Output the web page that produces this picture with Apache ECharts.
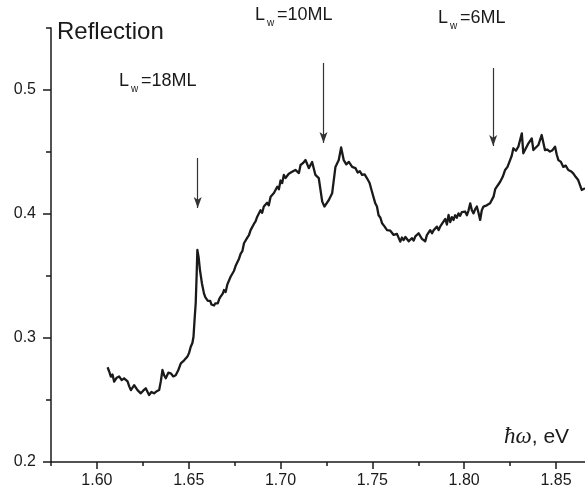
<!DOCTYPE html>
<html>
<head>
<meta charset="utf-8">
<script src="https://cdn.jsdelivr.net/npm/echarts@6/dist/echarts.min.js"></script>
<style>
html,body{margin:0;padding:0;background:#fff;}
#c{width:585px;height:497px;}
</style>
</head>
<body>
<div id="c"></div>
<script>
// photon energy (eV)
const energy = [
1.6058,1.6067,1.6076,1.6085,1.6094,1.6108,1.6121,1.6135,1.6148,1.6167,1.6176,1.6185,1.6203,1.6221,1.6239,1.6252,1.6266,1.6284,1.6297,1.6311,
1.6325,1.6339,1.6348,1.6357,1.6366,1.6375,1.6389,1.6402,1.6416,1.6429,1.6443,1.6457,1.6475,1.6493,1.6502,1.6511,1.6520,1.6526,1.6532,1.6538,
1.6543,1.6547,1.6554,1.6561,1.6572,
1.6583,1.6590,1.6597,1.6604,1.6610,1.6617,1.6624,1.6631,1.6638,1.6645,1.6651,1.6658,1.6665,1.6672,1.6679,1.6686,1.6692,1.6701,1.6710,1.6719,
1.6728,1.6737,1.6746,1.6755,1.6765,1.6774,1.6783,1.6792,1.6801,1.6810,1.6819,1.6828,1.6837,1.6846,1.6855,1.6864,1.6873,1.6882,1.6891,1.6900,
1.6909,1.6918,1.6927,1.6936,1.6946,1.6955,1.6964,1.6973,1.6982,1.6991,1.7000,1.7009,1.7018,1.7027,1.7036,1.7045,1.7054,1.7063,1.7072,1.7081,
1.7091,1.7100,1.7109,1.7122,1.7136,1.7141,1.7154,1.7172,1.7190,1.7208,1.7227,1.7239,1.7263,1.7281,1.7299,1.7317,1.7330,
1.7344,1.7358,1.7372,1.7390,1.7408,1.7420,1.7432,1.7444,1.7458,1.7471,1.7485,1.7498,1.7507,1.7516,1.7525,1.7534,1.7544,1.7553,1.7566,1.7580,
1.7598,1.7616,1.7634,1.7652,1.7661,1.7670,1.7680,1.7689,1.7698,1.7707,1.7716,1.7725,1.7734,1.7743,1.7752,1.7761,1.7770,1.7779,1.7788,1.7797,
1.7806,1.7815,1.7825,1.7834,1.7843,1.7852,1.7861,1.7870,1.7879,1.7888,1.7897,1.7906,1.7915,1.7924,1.7933,1.7942,1.7951,1.7960,1.7969,1.7978,
1.7987,1.7996,1.8005,1.8015,1.8024,1.8033,1.8042,1.8051,1.8060,1.8069,1.8078,1.8087,1.8096,1.8105,1.8114,1.8123,1.8132,1.8141,1.8150,1.8160,
1.8169,1.8178,1.8187,1.8196,1.8210,1.8223,1.8236,1.8250,1.8259,1.8268,1.8282,1.8295,1.8314,1.8322,1.8350,1.8368,1.8377,1.8404,1.8422,1.8440,
1.8453,1.8467,1.8481,1.8495,1.8504,1.8513,1.8527,1.8540,1.8553,1.8567,1.8581,1.8594,1.8607,1.8621,1.8630,1.8640,1.8649,1.8658
];
// reflection
const reflection = [
0.2764,0.2730,0.2688,0.2705,0.2648,0.2680,0.2690,0.2660,0.2675,0.2650,0.2610,0.2580,0.2620,0.2580,0.2554,0.2575,0.2594,0.2540,0.2565,0.2554,
0.2570,0.2580,0.2650,0.2742,0.2700,0.2675,0.2720,0.2715,0.2690,0.2700,0.2740,0.2796,0.2820,0.2850,0.2880,0.2930,0.2960,0.3010,0.3150,0.3280,
0.3500,0.3710,0.3650,0.3550,0.3440,
0.3360,0.3330,0.3335,0.3300,0.3290,0.3300,0.3270,0.3285,0.3262,0.3280,0.3290,0.3280,0.3310,0.3330,0.3320,0.3360,0.3387,0.3370,0.3430,0.3445,
0.3494,0.3480,0.3540,0.3580,0.3570,0.3640,0.3680,0.3700,0.3764,0.3760,0.3810,0.3830,0.3870,0.3880,0.3920,0.3940,0.3978,0.3990,0.4030,0.4010,
0.4060,0.4045,0.4090,0.4070,0.4140,0.4125,0.4170,0.4160,0.4220,0.4200,0.4270,0.4250,0.4315,0.4290,0.4300,0.4325,0.4310,0.4340,0.4325,0.4355,
0.4340,0.4330,0.4395,0.4410,0.4435,0.4450,0.4370,0.4420,0.4315,0.4290,0.4100,0.4060,0.4113,0.4167,0.4380,0.4435,0.4537,
0.4435,0.4400,0.4420,0.4380,0.4370,0.4335,0.4345,0.4315,0.4320,0.4288,0.4250,0.4180,0.4190,0.4086,0.4060,0.3990,0.3970,0.3925,0.3900,0.3870,
0.3865,0.3831,0.3840,0.3777,0.3810,0.3790,0.3815,0.3817,0.3780,0.3795,0.3805,0.3785,0.3820,0.3815,0.3845,0.3830,0.3800,0.3810,0.3780,0.3830,
0.3850,0.3870,0.3845,0.3870,0.3885,0.3898,0.3870,0.3900,0.3920,0.3905,0.3960,0.3915,0.3992,0.3935,0.3975,0.3952,0.3990,0.3970,0.4005,0.3985,
0.4015,0.4005,0.4020,0.3990,0.4030,0.4086,0.4030,0.4005,0.4040,0.4060,0.4010,0.3952,0.4030,0.4060,0.4045,0.4070,0.4065,0.4086,0.4100,0.4140,
0.4200,0.4220,0.4240,0.4260,0.4300,0.4355,0.4380,0.4435,0.4470,0.4530,0.4510,0.4543,0.4650,0.4490,0.4570,0.4610,0.4516,0.4556,0.4637,0.4516,
0.4520,0.4503,0.4515,0.4543,0.4480,0.4435,0.4420,0.4380,0.4390,0.4355,0.4345,0.4328,0.4300,0.4274,0.4260,0.4194,0.4200,0.4207
];
// axis ticks
const xMajorTicks = [1.60,1.65,1.70,1.75,1.80,1.85];
const xMinorTicks = [1.575,1.625,1.675,1.725,1.775,1.825];
const yMajorTicks = [0.2,0.3,0.4,0.5];
const yMinorTicks = [0.25,0.35,0.45,0.55];
// arrows: x position, start value, tip value
const arrowX = [1.6549,1.7234,1.8158];
const arrowTop = [0.4452,0.5218,0.5177];
const arrowTip = [0.4048,0.4573,0.4548];
// annotation labels
const wellLabels = ['=18ML','=10ML','=6ML'];

const X_MIN = 1.575, X_MAX = 1.8658, Y_MIN = 0.2, Y_MAX = 0.55;
const ink = '#1a1a1a';
const font = 'Liberation Sans, Arial, Helvetica, sans-serif';

const chart = echarts.init(document.getElementById('c'), null, {renderer:'canvas'});

const seriesData = energy.map((e,i)=>[e, reflection[i]]);
const arrowLines = arrowX.map((x,i)=>[
  {coord:[x,arrowTop[i]], symbol:'none'},
  {coord:[x,arrowTip[i]], symbol:'arrow', symbolSize:[6,11]}
]);

const labelPos = [[119,72],[255,6],[438,9]];
const graphics = [];
labelPos.forEach((p,i)=>{
  graphics.push({type:'text', x:p[0], y:p[1], style:{text:'L', font:'18px '+font, fill:ink, verticalAlign:'top'}});
  graphics.push({type:'text', x:p[0]+12, y:p[1]+12, style:{text:'w', font:'10px '+font, fill:ink, verticalAlign:'top'}});
  graphics.push({type:'text', x:p[0]+22, y:p[1], style:{text:wellLabels[i], font:'18px '+font, fill:ink, verticalAlign:'top'}});
});
graphics.push({type:'text', x:57, y:20, style:{text:'Reflection', font:'24px '+font, fill:ink, verticalAlign:'top'}});
graphics.push({type:'text', x:504, y:437, style:{
  text:'{s|ħω}{t|, eV}', verticalAlign:'middle', fill:ink,
  rich:{s:{fontFamily:'Liberation Serif, Times New Roman, serif', fontStyle:'italic', fontSize:23, fill:ink},
        t:{fontFamily:font, fontSize:21, fill:ink}}
}});

const axisLine = {show:true, lineStyle:{color:ink, width:1.5}};
chart.setOption({
  animation:false,
  backgroundColor:'#fff',
  grid:{left:51, right:0, top:28, bottom:35, containLabel:false},
  xAxis:[
    {type:'value', min:X_MIN, max:X_MAX, position:'bottom',
     axisLine:axisLine, splitLine:{show:false},
     axisTick:{show:true, inside:false, length:7, customValues:xMajorTicks, lineStyle:{color:ink, width:1.5}},
     axisLabel:{show:true, customValues:xMajorTicks, margin:11, fontSize:16, fontFamily:font, color:ink,
                formatter:v=>v.toFixed(2)}},
    {type:'value', min:X_MIN, max:X_MAX, position:'bottom',
     axisLine:{show:false}, splitLine:{show:false},
     axisTick:{show:true, inside:false, length:4, customValues:xMinorTicks, lineStyle:{color:ink, width:1.5}},
     axisLabel:{show:false}}
  ],
  yAxis:[
    {type:'value', min:Y_MIN, max:Y_MAX, position:'left',
     axisLine:axisLine, splitLine:{show:false},
     axisTick:{show:true, inside:false, length:8, customValues:yMajorTicks, lineStyle:{color:ink, width:1.5}},
     axisLabel:{show:true, customValues:yMajorTicks, margin:15, fontSize:16, fontFamily:font, color:ink,
                formatter:v=>v.toFixed(1)}},
    {type:'value', min:Y_MIN, max:Y_MAX, position:'left',
     axisLine:{show:false}, splitLine:{show:false},
     axisTick:{show:true, inside:false, length:5, customValues:yMinorTicks, lineStyle:{color:ink, width:1.5}},
     axisLabel:{show:false}}
  ],
  series:[{
    type:'line', xAxisIndex:0, yAxisIndex:0, data:seriesData,
    showSymbol:false, symbol:'none', smooth:false,
    lineStyle:{color:ink, width:2.3, join:'round'},
    markLine:{silent:true, symbol:['none','arrow'], symbolSize:9,
      lineStyle:{color:'#333', width:1.2, type:'solid'}, itemStyle:{color:'#333'}, label:{show:false},
      emphasis:{disabled:true},
      data:arrowLines}
  }],
  graphic:graphics
});
</script>
</body>
</html>
